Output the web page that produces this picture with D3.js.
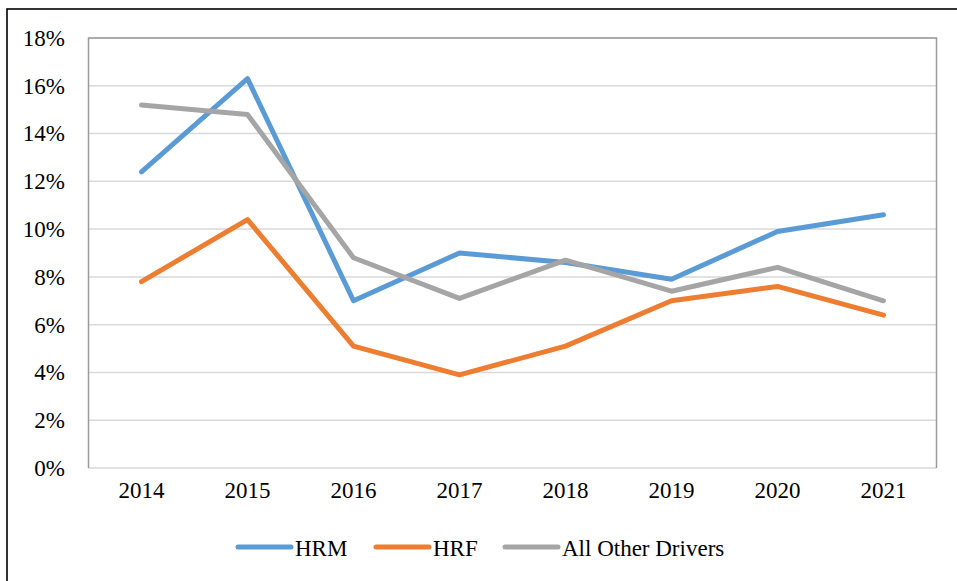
<!DOCTYPE html>
<html>
<head>
<meta charset="utf-8">
<script src="https://cdn.jsdelivr.net/npm/d3@7"></script>
<style>
  html, body { margin: 0; padding: 0; background: #fff; }
  svg { display: block; }
  text { font-family: "Liberation Serif", "Times New Roman", serif; fill: #000; }
</style>
</head>
<body>
<svg id="chart" width="957" height="581"></svg>
<script>
const years = ["2014", "2015", "2016", "2017", "2018", "2019", "2020", "2021"];
const hrm = [12.4, 16.3, 7.0, 9.0, 8.6, 7.9, 9.9, 10.6];
const hrf = [7.8, 10.4, 5.1, 3.9, 5.1, 7.0, 7.6, 6.4];
const others = [15.2, 14.8, 8.8, 7.1, 8.7, 7.4, 8.4, 7.0];
const yTicks = [0, 2, 4, 6, 8, 10, 12, 14, 16, 18];
const seriesNames = ["HRM", "HRF", "All Other Drivers"];
const seriesColors = ["#5b9bd5", "#ed7d31", "#a5a5a5"];

const series = [hrm, hrf, others].map((v, i) => ({ name: seriesNames[i], color: seriesColors[i], values: v }));

const svg = d3.select("#chart");
const plot = { left: 88.5, right: 936.5, top: 38, bottom: 468 };
const fontSize = "23px";

// outer frame (left and top edges visible)
svg.append("rect")
  .attr("x", 7).attr("y", 9)
  .attr("width", 1000).attr("height", 1000)
  .attr("fill", "none").attr("stroke", "#000").attr("stroke-width", 1.6);

const x = d3.scaleBand().domain(years).range([plot.left, plot.right]).padding(0);
const y = d3.scaleLinear().domain([0, 18]).range([plot.bottom, plot.top]);

// gridlines
svg.append("g").selectAll("line").data(yTicks).join("line")
  .attr("x1", plot.left).attr("x2", plot.right)
  .attr("y1", d => y(d)).attr("y2", d => y(d))
  .attr("stroke", "#d9d9d9").attr("stroke-width", 1.5);

// plot border (left, top, right)
svg.append("path")
  .attr("d", `M${plot.left},${plot.bottom}V${plot.top}H${plot.right}V${plot.bottom}`)
  .attr("fill", "none").attr("stroke", "#9a9a9a").attr("stroke-width", 1.5);

// y axis labels
const yAxis = d3.axisLeft(y).tickValues(yTicks).tickFormat(d => d + "%").tickSize(0).tickPadding(23.5);
const gy = svg.append("g").attr("transform", `translate(${plot.left},0)`).call(yAxis);
gy.select(".domain").remove();
gy.selectAll("text").style("font-family", '"Liberation Serif", serif').style("font-size", fontSize).attr("fill", "#000");

// x axis labels
const xAxis = d3.axisBottom(x).tickSize(0).tickPadding(14);
const gx = svg.append("g").attr("transform", `translate(0,${plot.bottom})`).call(xAxis);
gx.select(".domain").remove();
gx.selectAll("text").style("font-family", '"Liberation Serif", serif').style("font-size", fontSize).attr("fill", "#000");

// lines
const line = d3.line()
  .x((d, i) => x(years[i]) + x.bandwidth() / 2)
  .y(d => y(d));

svg.append("g").selectAll("path").data(series).join("path")
  .attr("d", d => line(d.values))
  .attr("fill", "none")
  .attr("stroke", d => d.color)
  .attr("stroke-width", 5)
  .attr("stroke-linecap", "round")
  .attr("stroke-linejoin", "round");

// legend
const legendX = [238, 376, 505];
const lg = svg.append("g").selectAll("g").data(series).join("g")
  .attr("transform", (d, i) => `translate(${legendX[i]},547)`);
lg.append("line").attr("x1", 0).attr("x2", 53).attr("y1", 0).attr("y2", 0)
  .attr("stroke", d => d.color).attr("stroke-width", 5).attr("stroke-linecap", "round");
lg.append("text").attr("x", 57).attr("y", 8.5)
  .style("font-size", fontSize).text(d => d.name);
</script>
</body>
</html>
